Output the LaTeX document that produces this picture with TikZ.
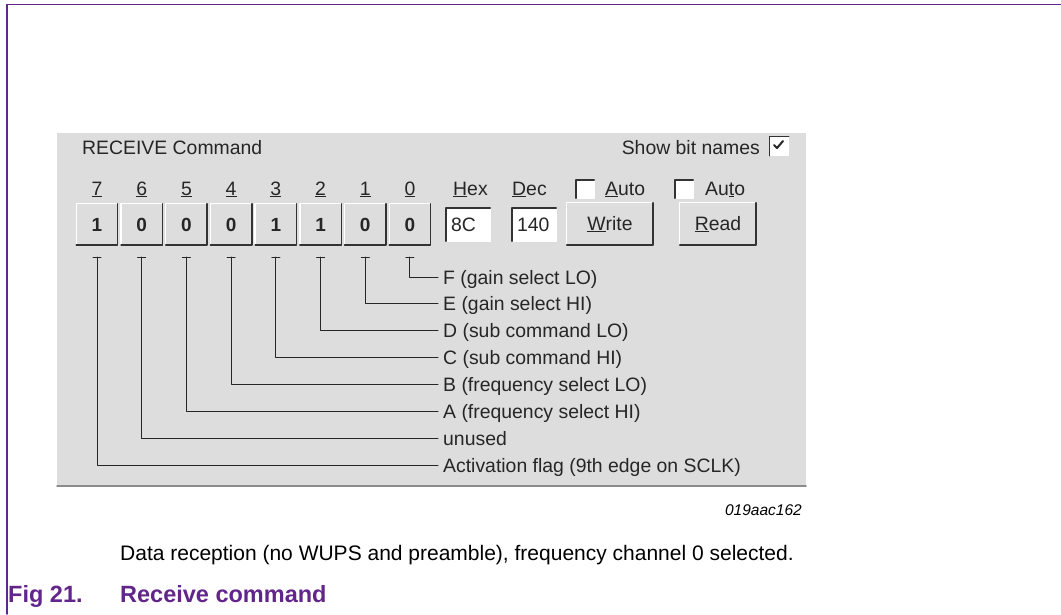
\documentclass[tikz,border=0pt]{standalone}
\usepackage{fontspec}
\setmainfont{Liberation Sans}
\usetikzlibrary{positioning}
\definecolor{figpurple}{RGB}{98,37,138}
\definecolor{panelgray}{RGB}{221,221,221}
\definecolor{guitext}{RGB}{38,38,38}
\tikzset{
  guifont/.style={font=\fontsize{19.4}{22}\selectfont, text=guitext, inner sep=0pt},
  bitbtn/.style={minimum width=41pt, minimum height=41pt, inner sep=0pt,
    font=\fontsize{19}{22}\selectfont\bfseries, text=guitext},
  cmdbtn/.style={guifont, minimum height=42pt},
  fieldbox/.style={guifont, fill=white, minimum height=33pt, text width=34pt,
    inner xsep=5pt, inner ysep=0pt, align=left},
  chkbox/.style={fill=white, minimum size=19pt, inner sep=0pt},
  bitlabel/.style={guifont, anchor=west, inner xsep=5pt, text height=14pt, text depth=0pt},
  wire/.style={guitext, line width=1pt}
}
% raised / sunken 3D edges of a node
\newcommand\raisededge[1]{%
  \draw[white, line width=1.3pt] (#1.south west) |- (#1.north east);
  \draw[black!80, line width=1.5pt] (#1.south west) -| (#1.north east);}
\newcommand\sunkenedge[1]{%
  \draw[white, line width=1.3pt] (#1.south west) -| (#1.north east);
  \draw[black!80, line width=1.5pt] (#1.south west) |- (#1.north east);}
\begin{document}
\begin{tikzpicture}[x=1pt, y=-1pt, line join=round, line cap=round]
\useasboundingbox (0,0) rectangle (1061,614);
\draw[figpurple, line width=1.5pt] (7,614) -- (7,4.5) -- (1061,4.5);
% window panel
\fill[panelgray] (57,133) rectangle (806,486);
\draw[black!45, line width=1.5pt] (57,486) -- (806,486);
\node[guifont, anchor=base west] (title) at (82,154) {RECEIVE Command};
\node[guifont, anchor=base east] (showtxt) at (760,154) {Show bit names};
\node[chkbox] (showchk) at (779,146) {};
\sunkenedge{showchk}
\draw[guitext, line width=2pt] ([xshift=-5pt, yshift=1pt]showchk.center) -- ++(3,3) -- ++(6,-7);
% bits
\foreach \i/\v in {7/1,6/0,5/0,4/0,3/1,2/1,1/0,0/0}{
  \pgfmathsetmacro\bx{97+44.71*(7-\i)}
  \node[guifont, anchor=base] (num\i) at (\bx,195) {\underline{\i}};
  \node[bitbtn] (bit\i) at (\bx,224.5) {\v};
  \raisededge{bit\i}
  \coordinate (tk\i) at (\bx,257);
  \draw[wire] (tk\i) ++(-4,0) -- ++(8,0);
}
% hex / dec fields
\node[guifont, anchor=base west] (hexlbl) at (453,195) {\underline{H}ex};
\node[guifont, anchor=base west] (declbl) at (512,195) {\underline{D}ec};
\node[fieldbox] (hexbox) at (468,224.5) {8C};
\node[fieldbox] (decbox) at (534,224.5) {140};
\sunkenedge{hexbox}
\sunkenedge{decbox}
\node[chkbox, minimum size=18pt] (autow) at (585,189) {};
\node[chkbox, minimum size=18pt] (autor) at (684,189) {};
\sunkenedge{autow}
\sunkenedge{autor}
\node[guifont, anchor=base west] (autowtxt) at (605,195) {\underline{A}uto};
\node[guifont, anchor=base west] (autortxt) at (705,195) {Au\underline{t}o};
\node[cmdbtn, minimum width=86pt] (write) at (610,224) {\underline{W}rite};
\node[cmdbtn, minimum width=76pt] (read) at (718,224) {\underline{R}ead};
\raisededge{write}
\raisededge{read}
% bit names
\foreach \i/\txt in {0/F (gain select LO), 1/E (gain select HI), 2/D (sub command LO),
  3/C (sub command HI), 4/B (frequency select LO), 5/A (frequency select HI),
  6/unused, 7/Activation flag (9th edge on SCLK)}{
  \node[bitlabel] (lbl\i) at (438,{277+26.9*\i}) {\txt};
  \draw[wire] (tk\i) |- (lbl\i.west);
}
\node[font=\fontsize{15.5}{18}\selectfont\itshape, anchor=base east, inner sep=0pt] (figid) at (802,515) {019aac162};
\node[font=\fontsize{21}{24}\selectfont, anchor=base west, inner sep=0pt] (caption) at (120,560)
  {Data reception (no WUPS and preamble), frequency channel 0 selected.};
\node[font=\fontsize{23.5}{26}\selectfont\bfseries, text=figpurple, anchor=base west, inner sep=0pt] (figtitle) at (8,602)
  {\makebox[112pt][l]{Fig 21.}Receive command};
\end{tikzpicture}
\end{document}
